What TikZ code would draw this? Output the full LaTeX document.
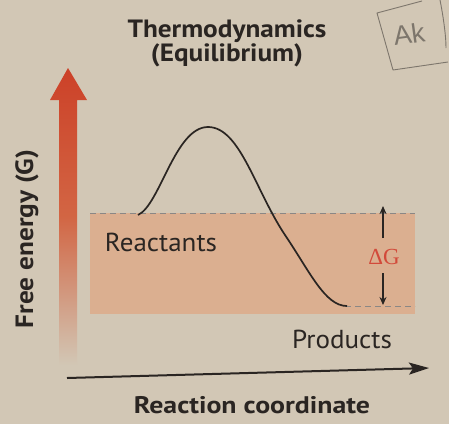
\documentclass[tikz,border=0pt]{standalone}
\usepackage{fontspec}
\setmainfont{PT Sans}
\newfontfamily\titlefont[FakeStretch=1.09]{PT Sans Bold}
\newfontfamily\axisfont[FakeStretch=1.16]{PT Sans Bold}
\newfontfamily\labelfont[FakeStretch=1.04]{PT Sans}
\newfontfamily\serifdelta{Liberation Serif}
\newfontfamily\handfont{Liberation Sans}
\usetikzlibrary{arrows.meta,shadings}
\definecolor{paper}{HTML}{D2C7B5}
\definecolor{band}{HTML}{DBAF90}
\definecolor{axisred}{HTML}{CC4128}
\definecolor{ink}{HTML}{2A2522}
\definecolor{dgred}{HTML}{D24A3A}
\definecolor{pencil}{HTML}{7D766C}
\tikzset{
  lbl/.style={text=ink, inner sep=0pt, anchor=base},
  titletext/.style={lbl, font=\titlefont\fontsize{25}{28}\selectfont},
  axistext/.style={lbl, font=\axisfont\fontsize{24}{28}\selectfont},
  plain/.style={lbl, font=\labelfont\fontsize{26}{28}\selectfont},
  lvl/.style={dash pattern=on 6pt off 4pt, draw=ink!55, line width=0.9pt},
  curve/.style={ink, line width=1.7pt},
  dgarrow/.style={ink, line width=1.3pt, -{Stealth[length=8pt,width=7pt]}},
}
\begin{document}
\begin{tikzpicture}[x=1pt,y=-1pt]
\fill[paper] (0,0) rectangle (449,424);
\useasboundingbox (0,0) rectangle (449,424);
% band
\fill[band] (90,213) rectangle (415,314);
\draw[lvl] (90,213) -- (415,213);
\draw[lvl] (345,306) -- (415,306);
% free energy arrow
\shade[bottom color=paper, top color=axisred, middle color=axisred!75!paper!90!orange]
  (59,365) -- (59,100) -- (50,100) -- (68,68) -- (87,100) -- (77,100) -- (77,365) -- cycle;
% x axis
\coordinate (xa) at (67,378);
\coordinate (xb) at (429,368);
\draw[ink, line width=2pt, -{Stealth[length=20pt,width=12pt,inset=4pt]}] (xa) -- (xb);
% curve
\coordinate (r) at (138,215);
\coordinate (pk) at (208,127);
\coordinate (mid) at (285,235);
\coordinate (p) at (347,306);
\draw[curve] (r) .. controls (160,205) and (175,127) .. (pk)
  .. controls (240,127) and (255,190) .. (mid)
  .. controls (310,272) and (325,306) .. (p);
% delta G
\node[font=\serifdelta\fontsize{23}{25}\selectfont, text=dgred, inner sep=0pt] (dg) at (384,257) {ΔG};
\coordinate (dgt) at (383,206);
\coordinate (dgb) at (383,305);
\coordinate (dgs1) at (383,238);
\coordinate (dgs2) at (383,273);
\draw[dgarrow] (dgs1) -- (dgt);
\draw[dgarrow] (dgs2) -- (dgb);
% texts
\node[titletext] (t1) at (227,37) {Thermodynamics};
\node[titletext] (t2) at (227,61) {(Equilibrium)};
\node[plain] (re) at (161,251) {Reactants};
\node[plain] (pr) at (342,348) {Products};
\node[axistext] (rc) at (252,413) {Reaction coordinate};
\node[titletext, rotate=90] (fe) at (33,239) {Free energy (G)};
% handwritten mark
\draw[pencil, line width=0.9pt, line join=round] (422,1) -- (377,13) -- (393,70) -- (448,62);
\draw[pencil, line width=0.9pt] (440,0) .. controls (443,15) and (446,35) .. (446,48);
\node[font=\handfont\fontsize{27}{30}\selectfont, text=pencil, rotate=8, inner sep=0pt] (ak) at (409,34) {Ak};
\end{tikzpicture}
\end{document}
